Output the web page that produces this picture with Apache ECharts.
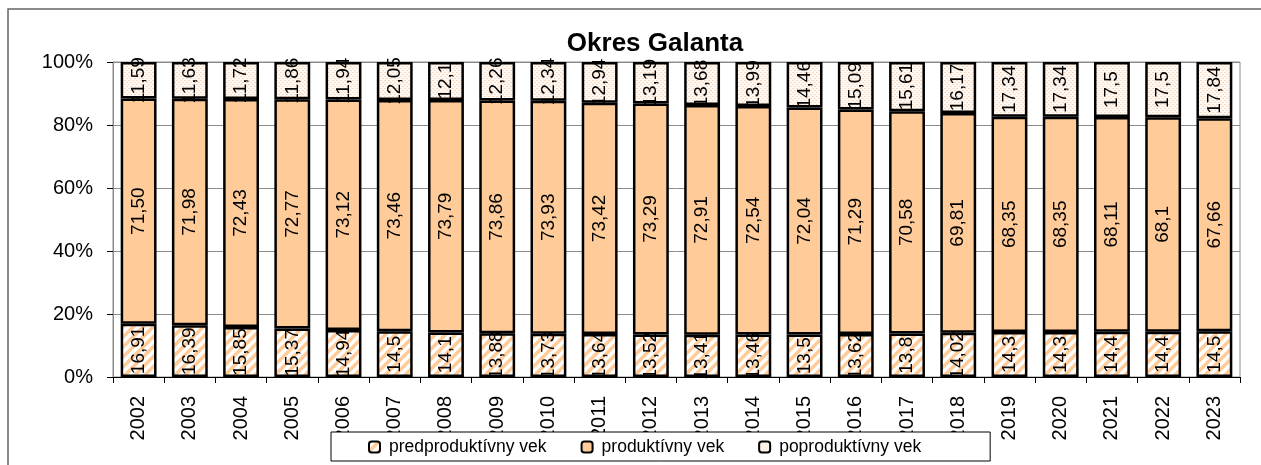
<!DOCTYPE html>
<html>
<head>
<meta charset="utf-8">
<script src="https://cdn.jsdelivr.net/npm/echarts@6/dist/echarts.min.js"></script>
<style>
  html, body { margin: 0; padding: 0; background: #fff; }
  #chart { width: 1261px; height: 465px; }
</style>
</head>
<body>
<div id="chart"></div>
<script>
  // roky
  const years = ['2002', '2003', '2004', '2005', '2006', '2007', '2008', '2009', '2010', '2011', '2012',
    '2013', '2014', '2015', '2016', '2017', '2018', '2019', '2020', '2021', '2022', '2023']
  // hodnoty v % tak ako su v popisoch
  const predproduktivny = ['16,91', '16,39', '15,85', '15,37', '14,94', '14,5', '14,1', '13,88', '13,73', '13,64', '13,52',
    '13,41', '13,46', '13,5', '13,62', '13,8', '14,02', '14,3', '14,3', '14,4', '14,4', '14,5']
  const produktivny = ['71,50', '71,98', '72,43', '72,77', '73,12', '73,46', '73,79', '73,86', '73,93', '73,42', '73,29',
    '72,91', '72,54', '72,04', '71,29', '70,58', '69,81', '68,35', '68,35', '68,11', '68,1', '67,66']
  const poproduktivny = ['11,59', '11,63', '11,72', '11,86', '11,94', '12,05', '12,1', '12,26', '12,34', '12,94', '13,19',
    '13,68', '13,99', '14,46', '15,09', '15,61', '16,17', '17,34', '17,34', '17,5', '17,5', '17,84']
  const yTicks = [0, 20, 40, 60, 80, 100]

  const FONT = '"Liberation Sans", Arial, sans-serif'
  const num = s => parseFloat(s.replace(',', '.'))

  // 100% stacked -> normalizovat kazdy rok
  const totals = years.map((y, i) => num(predproduktivny[i]) + num(produktivny[i]) + num(poproduktivny[i]))
  const toPct = arr => arr.map((s, i) => num(s) / totals[i] * 100)

  // vzorky vyplne
  function hatchPattern () {
    const c = document.createElement('canvas')
    c.width = 10
    c.height = 10
    const ctx = c.getContext('2d')
    ctx.fillStyle = '#ffffff'
    ctx.fillRect(0, 0, 10, 10)
    ctx.strokeStyle = '#ffcc99'
    ctx.lineWidth = 3.5
    ctx.beginPath()
    ctx.moveTo(-2, 12); ctx.lineTo(12, -2)
    ctx.moveTo(-7, 7); ctx.lineTo(7, -7)
    ctx.moveTo(3, 17); ctx.lineTo(17, 3)
    ctx.stroke()
    return c
  }
  function dotPattern () {
    const c = document.createElement('canvas')
    c.width = 4
    c.height = 4
    const ctx = c.getContext('2d')
    ctx.fillStyle = '#fffaf5'
    ctx.fillRect(0, 0, 4, 4)
    ctx.fillStyle = '#fcdcc0'
    ctx.fillRect(0, 0, 2, 1)
    ctx.fillRect(2, 2, 2, 1)
    return c
  }

  const chart = echarts.init(document.getElementById('chart'))

  const labelFor = arr => ({
    show: true,
    position: 'inside',
    rotate: 90,
    color: '#000',
    fontFamily: FONT,
    fontSize: 19,
    formatter: p => arr[p.dataIndex]
  })

  const barStyle = {
    borderColor: '#000',
    borderWidth: 2.5
  }

  chart.setOption({
    animation: false,
    textStyle: { fontFamily: FONT },
    title: {
      text: 'Okres Galanta',
      left: 650,
      textAlign: 'center',
      top: 26,
      textStyle: { fontFamily: FONT, fontSize: 26, fontWeight: 'bold', color: '#000' }
    },
    graphic: [{
      type: 'rect',
      shape: { x: 8, y: 9, width: 1300, height: 500 },
      style: { fill: 'none', stroke: '#666', lineWidth: 1.5 },
      silent: true
    }],
    legend: {
      left: 331,
      top: 432,
      padding: [6, 69, 5, 37],
      itemGap: 34,
      itemWidth: 11,
      itemHeight: 11,
      backgroundColor: '#fff',
      borderColor: '#000',
      borderWidth: 1,
      z: 10,
      itemStyle: { borderColor: '#000', borderWidth: 2 },
      textStyle: { fontFamily: FONT, fontSize: 17.5, color: '#000', padding: [0, 0, 0, 4] },
      data: ['predproduktívny vek', 'produktívny vek', 'poproduktívny vek']
    },
    grid: {
      left: 113,
      right: 21,
      top: 62,
      bottom: 88,
      show: true,
      borderColor: '#8c8c8c',
      borderWidth: 1
    },
    xAxis: {
      type: 'category',
      data: years,
      axisLine: { lineStyle: { color: '#000', width: 1 } },
      axisTick: { show: true, length: 6, lineStyle: { color: '#000' } },
      axisLabel: { rotate: 90, margin: 19, color: '#000', fontFamily: FONT, fontSize: 20 }
    },
    yAxis: {
      type: 'value',
      min: yTicks[0],
      max: yTicks[yTicks.length - 1],
      interval: 20,
      axisLine: { show: true, lineStyle: { color: '#8c8c8c', width: 1 } },
      axisTick: { show: true, length: 6, lineStyle: { color: '#000' } },
      axisLabel: { color: '#000', fontFamily: FONT, fontSize: 20, margin: 20, formatter: '{value}%' },
      splitLine: { lineStyle: { color: '#8c8c8c', width: 1 } }
    },
    series: [{
      name: 'predproduktívny vek',
      type: 'bar',
      stack: 'total',
      barCategoryGap: '30%',
      data: toPct(predproduktivny),
      itemStyle: Object.assign({ color: { image: hatchPattern(), repeat: 'repeat' } }, barStyle),
      label: labelFor(predproduktivny)
    }, {
      name: 'produktívny vek',
      type: 'bar',
      stack: 'total',
      data: toPct(produktivny),
      itemStyle: Object.assign({ color: '#ffcc99' }, barStyle),
      label: labelFor(produktivny)
    }, {
      name: 'poproduktívny vek',
      type: 'bar',
      stack: 'total',
      data: toPct(poproduktivny),
      itemStyle: Object.assign({ color: { image: dotPattern(), repeat: 'repeat' } }, barStyle),
      label: labelFor(poproduktivny)
    }]
  })
</script>
</body>
</html>
